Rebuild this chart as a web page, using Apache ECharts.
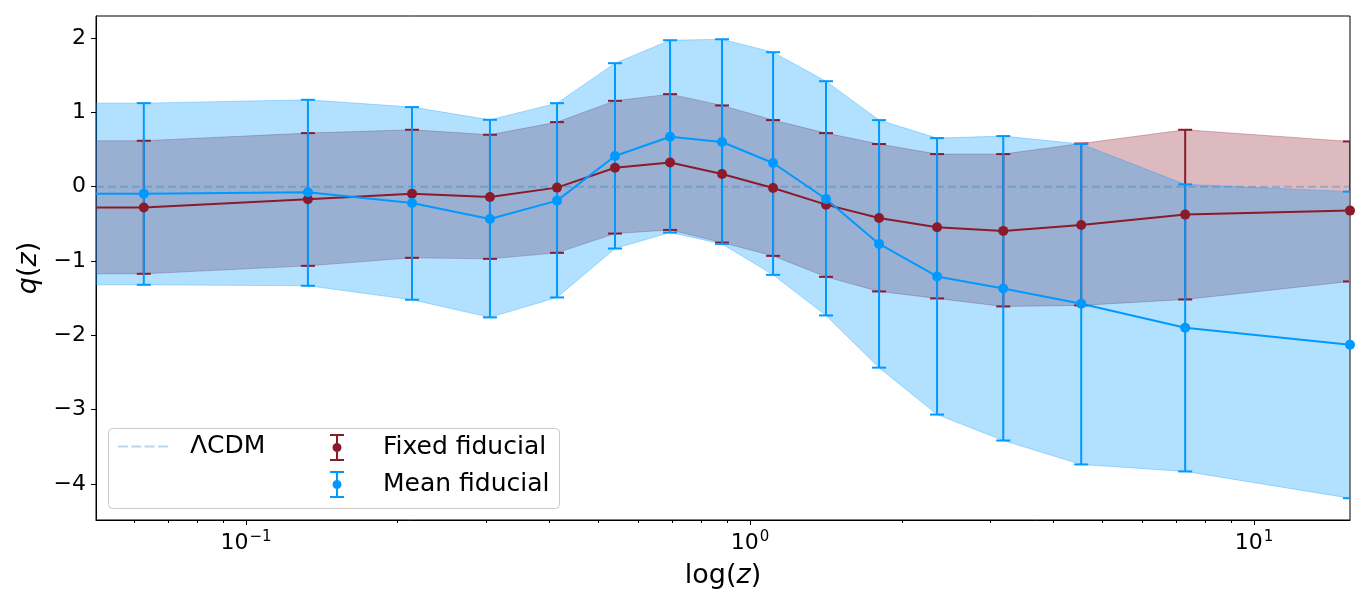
<!DOCTYPE html>
<html>
<head>
<meta charset="utf-8">
<script src="https://cdn.jsdelivr.net/npm/echarts@6/dist/echarts.min.js"></script>
<style>
html, body { margin: 0; padding: 0; background: #fff; }
#app { width: 1366px; height: 608px; }
</style>
</head>
<body>
<div id="app"></div>
<script>
// redshift bins
const zBins = [0.0627, 0.1327, 0.2135, 0.3048, 0.4141, 0.5397, 0.694, 0.880, 1.111, 1.415, 1.803, 2.35, 3.18, 4.54, 7.30, 15.5];
const zMin = 0.0504;
const zMax = 15.5;

// fixed fiducial q(z)
const fixedMean = [-0.28, -0.17, -0.094, -0.139, -0.013, 0.255, 0.326, 0.170, -0.018, -0.242, -0.421, -0.546, -0.595, -0.515, -0.376, -0.322];
const fixedUp = [0.617, 0.72, 0.765, 0.698, 0.868, 1.154, 1.244, 1.092, 0.895, 0.72, 0.573, 0.438, 0.438, 0.58, 0.765, 0.608];
const fixedLow = [-1.172, -1.065, -0.957, -0.971, -0.89, -0.631, -0.582, -0.752, -0.931, -1.213, -1.409, -1.503, -1.611, -1.597, -1.517, -1.275];

// mean fiducial q(z)
const meanMean = [-0.094, -0.076, -0.219, -0.434, -0.188, 0.412, 0.671, 0.6, 0.318, -0.166, -0.77, -1.208, -1.369, -1.575, -1.897, -2.125];
const meanUp = [1.123, 1.168, 1.07, 0.899, 1.123, 1.66, 1.969, 1.982, 1.808, 1.418, 0.895, 0.653, 0.68, 0.573, 0.031, -0.067];
const meanLow = [-1.32, -1.333, -1.521, -1.758, -1.49, -0.832, -0.617, -0.77, -1.186, -1.732, -2.434, -3.065, -3.414, -3.736, -3.83, -4.19];

const lcdmQ = 0;
const yTicks = [-4, -3, -2, -1, 0, 1, 2];
const xMinor = [0.06, 0.07, 0.08, 0.09, 0.2, 0.3, 0.4, 0.5, 0.6, 0.7, 0.8, 0.9, 2, 3, 4, 5, 6, 7, 8, 9];

const RED = '#8b1b2b';
const BLUE = '#0099ff';
const LCDM = 'rgba(31,119,180,0.3)';
const FONT = 'DejaVu Sans';

const ebIcon = 'path://M0,0 H14 V2 H0 Z M6,0 H8 V27 H6 Z M0,25 H14 V27 H0 Z M2.5,13.5 A4.5,4.5 0 1,1 11.5,13.5 A4.5,4.5 0 1,1 2.5,13.5 Z';
const dashIcon = 'path://M0,0 H10 V2 H0 Z M13.3,0 H23.3 V2 H13.3 Z M26.6,0 H36.6 V2 H26.6 Z M40,0 H50 V2 H40 Z';

// band extended flat to the left edge like the source plot
function band(lo, hi, fill, z) {
	return {
		type: 'custom',
		name: 'band',
		silent: true,
		z: z,
		clip: true,
		data: [[zBins[0], lo[0]]],
		renderItem: function(params, api) {
			const xs = [zMin].concat(zBins);
			const top = [hi[0]].concat(hi);
			const bot = [lo[0]].concat(lo);
			const pts = [];
			for (let i = 0; i < xs.length; i++) pts.push(api.coord([xs[i], top[i]]));
			for (let i = xs.length - 1; i >= 0; i--) pts.push(api.coord([xs[i], bot[i]]));
			return {
				type: 'polygon',
				shape: { points: pts },
				style: { fill: fill, stroke: fill, lineWidth: 1 }
			};
		}
	};
}

function errBars(name, lo, hi, color, z) {
	return {
		type: 'custom',
		name: name,
		z: z,
		clip: true,
		silent: true,
		data: zBins.map((v, i) => [v, lo[i], hi[i]]),
		encode: { x: 0, y: [1, 2] },
		renderItem: function(params, api) {
			const x = api.value(0);
			const a = api.coord([x, api.value(1)]);
			const b = api.coord([x, api.value(2)]);
			const st = { stroke: color, lineWidth: 2 };
			return {
				type: 'group',
				children: [
					{ type: 'line', shape: { x1: a[0], y1: a[1], x2: b[0], y2: b[1] }, style: st },
					{ type: 'line', shape: { x1: a[0] - 7, y1: a[1], x2: a[0] + 7, y2: a[1] }, style: st },
					{ type: 'line', shape: { x1: b[0] - 7, y1: b[1], x2: b[0] + 7, y2: b[1] }, style: st }
				]
			};
		}
	};
}

function meanLine(name, vals, color, z) {
	const data = [{ value: [zMin, vals[0]], symbolSize: 0 }].concat(zBins.map((v, i) => [v, vals[i]]));
	return {
		type: 'line',
		name: name,
		z: z,
		data: data,
		symbol: 'circle',
		symbolSize: 10,
		showSymbol: true,
		silent: true,
		lineStyle: { color: color, width: 2 },
		itemStyle: { color: color }
	};
}

const supDigits = v => {
	const e = Math.round(Math.log10(v));
	return '{b|10}{s|' + (e < 0 ? '\u2212' + Math.abs(e) : e) + '}';
};

let chart = echarts.init(document.getElementById('app'));
chart.setOption({
	animation: false,
	backgroundColor: '#fff',
	textStyle: { fontFamily: FONT },
	grid: {
		left: 96, right: 16, top: 16, bottom: 88,
		show: true, borderColor: '#000', borderWidth: 1
	},
	xAxis: [{
		type: 'log',
		logBase: 10,
		min: zMin,
		max: zMax,
		name: '{a|log(}{i|z}{a|)}',
		nameLocation: 'middle',
		nameGap: 42,
		nameTextStyle: {
			rich: {
				a: { fontSize: 27, fontFamily: FONT, color: '#000' },
				i: { fontSize: 27, fontFamily: FONT, fontStyle: 'italic', color: '#000' }
			}
		},
		axisLine: { onZero: false, lineStyle: { color: '#000', width: 1 } },
		axisTick: { length: 5, lineStyle: { color: '#000' } },
		axisLabel: {
			showMinLabel: false,
			showMaxLabel: false,
			margin: 10,
			formatter: supDigits,
			rich: {
				b: { fontSize: 22, fontFamily: FONT, color: '#000' },
				s: { fontSize: 15, fontFamily: FONT, color: '#000', padding: [0, 0, 12, 1] }
			}
		},
		splitLine: { show: false },
		minorTick: { show: false }
	}, {
		type: 'log',
		logBase: 10,
		min: zMin,
		max: zMax,
		position: 'bottom',
		axisLine: { show: false, onZero: false },
		axisTick: { length: 3, customValues: xMinor, lineStyle: { color: '#000' } },
		axisLabel: { show: false },
		splitLine: { show: false }
	}],
	yAxis: {
		type: 'value',
		min: -4.483,
		max: 2.295,
		name: '{i|q}{a|(}{i|z}{a|)}',
		nameLocation: 'middle',
		nameGap: 50,
		nameTextStyle: {
			rich: {
				a: { fontSize: 27, fontFamily: FONT, color: '#000' },
				i: { fontSize: 27, fontFamily: FONT, fontStyle: 'italic', color: '#000' }
			}
		},
		axisLine: { show: true, lineStyle: { color: '#000', width: 1 } },
		axisTick: { show: true, length: 5, customValues: yTicks, lineStyle: { color: '#000' } },
		axisLabel: {
			customValues: yTicks,
			fontSize: 22,
			color: '#000',
			margin: 10,
			formatter: v => (v < 0 ? '\u2212' : '') + Math.abs(v)
		},
		splitLine: { show: false }
	},
	legend: [{
		data: [{ name: 'ΛCDM', icon: dashIcon, itemStyle: { color: LCDM } }],
		left: 118,
		top: 434,
		z: 100,
		padding: 0,
		itemWidth: 50,
		itemHeight: 27,
		selectedMode: false,
		textStyle: { fontSize: 25, color: '#000', fontFamily: FONT, padding: [0, 0, 0, 17] }
	}, {
		data: [
			{ name: 'Fixed fiducial', icon: ebIcon, itemStyle: { color: RED } },
			{ name: 'Mean fiducial', icon: ebIcon, itemStyle: { color: BLUE } }
		],
		orient: 'vertical',
		left: 330,
		top: 434,
		z: 100,
		padding: 0,
		itemWidth: 14,
		itemHeight: 27,
		itemGap: 10,
		selectedMode: false,
		textStyle: { fontSize: 25, color: '#000', fontFamily: FONT, padding: [0, 0, 0, 34] }
	}],
	graphic: [{
		type: 'rect',
		left: 108,
		top: 428,
		z: 50,
		shape: { width: 451, height: 80, r: 4 },
		style: { fill: 'rgba(255,255,255,0.8)', stroke: '#cccccc', lineWidth: 1 },
		silent: true
	}],
	series: [
		band(fixedLow, fixedUp, 'rgba(139,27,43,0.3)', 1),
		band(meanLow, meanUp, 'rgba(0,153,255,0.3)', 2),
		{
			type: 'line',
			name: 'ΛCDM',
			z: 3,
			silent: true,
			symbol: 'none',
			data: [[zMin, lcdmQ], [zMax, lcdmQ]],
			lineStyle: { color: LCDM, width: 2, type: [8, 4] },
			itemStyle: { color: LCDM }
		},
		errBars('Fixed fiducial', fixedLow, fixedUp, RED, 4),
		errBars('Mean fiducial', meanLow, meanUp, BLUE, 5),
		meanLine('Fixed fiducial', fixedMean, RED, 6),
		meanLine('Mean fiducial', meanMean, BLUE, 7)
	]
});
</script>
</body>
</html>
